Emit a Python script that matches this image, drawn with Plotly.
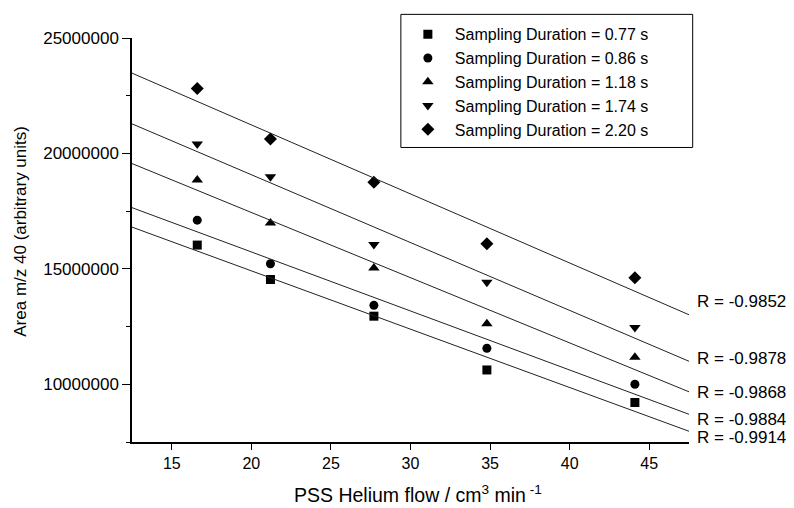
import numpy as np
import plotly.graph_objects as go

# ---- data ----
flow = [16.6, 21.2, 27.7, 34.8, 44.1]
series_names = [
    "Sampling Duration = 0.77 s",
    "Sampling Duration = 0.86 s",
    "Sampling Duration = 1.18 s",
    "Sampling Duration = 1.74 s",
    "Sampling Duration = 2.20 s",
]
area_077 = [16.03e6, 14.54e6, 12.95e6, 10.62e6, 9.21e6]
area_086 = [17.11e6, 15.22e6, 13.42e6, 11.56e6, 10.00e6]
area_118 = [18.85e6, 16.99e6, 15.04e6, 12.62e6, 11.17e6]
area_174 = [20.41e6, 18.99e6, 16.06e6, 14.42e6, 12.46e6]
area_220 = [22.81e6, 20.63e6, 18.75e6, 16.09e6, 14.62e6]
r_labels = ["R = -0.9914", "R = -0.9884", "R = -0.9868", "R = -0.9878", "R = -0.9852"]
x_title = "PSS Helium flow / cm<sup>3</sup> min<sup> -1</sup>"
y_title = "Area m/z 40 (arbitrary units)"

x_range = [12.5, 47.5]
y_range = [7.5e6, 25e6]

series = [area_077, area_086, area_118, area_174, area_220]
symbols = ["square", "circle", "triangle-up", "triangle-down", "diamond"]
sizes = [9, 9, 10, 10, 10]
label_yshift = [-6, -5, -1, 3, 13]

FONT = "Liberation Sans, Arial, sans-serif"

fig = go.Figure()
for name, ys, sym, sz in zip(series_names, series, symbols, sizes):
    fig.add_trace(go.Scatter(
        x=flow, y=ys, mode="markers", name=name,
        marker=dict(symbol=sym, size=sz, color="black", line=dict(width=0)),
    ))

# linear regression lines across the full axis range
annotations = []
for ys, lab, dy in zip(series, r_labels, label_yshift):
    m, b = np.polyfit(flow, ys, 1)
    xs = np.array(x_range)
    fit = m * xs + b
    fig.add_trace(go.Scatter(
        x=xs, y=fit, mode="lines", showlegend=False,
        line=dict(color="#222222", width=1), hoverinfo="skip",
    ))
    annotations.append(dict(
        x=x_range[1], y=fit[1], xref="x", yref="y", text=lab,
        showarrow=False, xanchor="left", yanchor="middle",
        xshift=6, yshift=dy, font=dict(family=FONT, size=17, color="black"),
    ))

# axis titles as annotations for exact placement
annotations.append(dict(
    x=0.5137, y=-0.1288, xref="paper", yref="paper", text=x_title,
    showarrow=False, xanchor="center", yanchor="middle",
    font=dict(family=FONT, size=19.5, color="black"),
))
annotations.append(dict(
    x=-0.2004, y=0.5214, xref="paper", yref="paper", text=y_title,
    showarrow=False, xanchor="center", yanchor="middle", textangle=-90,
    font=dict(family=FONT, size=17, color="black"),
))

# the page has an 8px body margin, so the figure is 786x500 and offset by 8px
fig.update_layout(
    width=786, height=500,
    margin=dict(l=124, r=105, t=30, b=66, autoexpand=False),
    paper_bgcolor="white", plot_bgcolor="white",
    font=dict(family=FONT, size=16, color="black"),
    showlegend=True,
    legend=dict(
        x=0.4827, y=1.0513, xanchor="left", yanchor="top",
        bgcolor="rgba(0,0,0,0)", borderwidth=0,
        font=dict(family=FONT, size=16, color="black"),
        itemwidth=44, tracegroupgap=0,
    ),
    shapes=[dict(type="rect", xref="paper", yref="paper",
                 x0=0.4827, x1=1.0066, y0=0.729, y1=1.0585,
                 line=dict(color="black", width=1), fillcolor="rgba(0,0,0,0)", layer="below")],
    annotations=annotations,
)
fig.update_xaxes(
    range=x_range, tickmode="linear", tick0=0, dtick=5, automargin=False,
    showgrid=False, zeroline=False, showline=True, linecolor="black", linewidth=1.5,
    ticks="outside", ticklen=6, tickwidth=1.2, tickcolor="black",
    tickfont=dict(family=FONT, size=16, color="black"),
)
fig.update_yaxes(
    range=y_range, tickmode="linear", tick0=0, dtick=5e6, tickformat="d", automargin=False,
    showgrid=False, zeroline=False, showline=True, linecolor="black", linewidth=1.5,
    ticks="outside", ticklen=8, tickwidth=1.2, tickcolor="black",
    minor=dict(dtick=2.5e6, tick0=0, ticks="outside", ticklen=4, tickwidth=1, tickcolor="black", showgrid=False),
    tickfont=dict(family=FONT, size=17, color="black"),
)

fig.write_html("out.html")
